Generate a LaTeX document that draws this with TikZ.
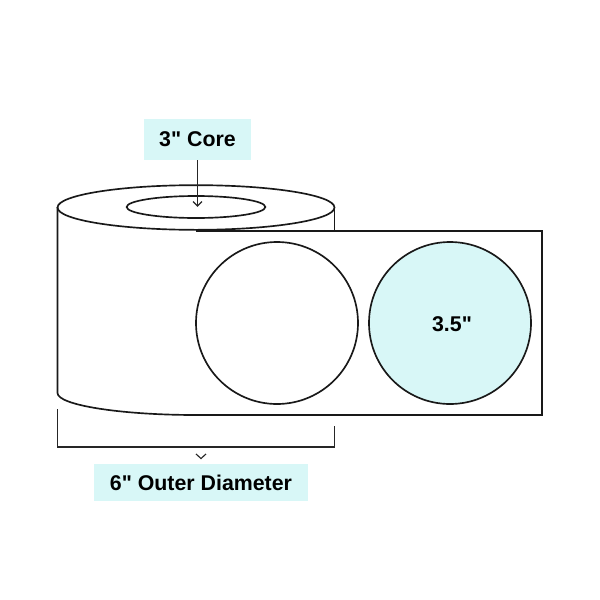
\documentclass[tikz,border=0pt]{standalone}
\usepackage{fontspec}
\newfontfamily\labelfont{Liberation Sans}
\usepackage{xcolor}
\usetikzlibrary{shapes.geometric}
\definecolor{labelfill}{HTML}{D8F7F7}
\tikzset{
    rollline/.style={line width=1.25pt,draw=black!90},
    thinline/.style={line width=0.85pt,draw=black!85},
    labeltext/.style={inner sep=0pt,font=\labelfont\bfseries\fontsize{16}{18}\selectfont,text=black},
    labelbox/.style={labeltext,fill=labelfill},
    labelcircle/.style={circle,rollline,minimum size=121.5pt,inner sep=0pt},
    coreellipse/.style={ellipse,rollline,inner sep=0pt}
}
\begin{document}
\begin{tikzpicture}[x=0.75pt,y=0.75pt,yscale=-1,xscale=1]
        \useasboundingbox (0,0) rectangle (600,600);

        \draw [rollline]  (57.5,207) -- (57.5,393) .. controls (57.5,405) and (120,415) .. (196,415) -- (542,415) -- (542,231) -- (196,231) ;
        \draw [rollline]  (334.5,207) -- (334.5,231) ;

        \node (outerEllipse) [coreellipse,minimum width=207.75pt,minimum height=33.5pt] at (196,207.5) {};
        \node (innerEllipse) [coreellipse,minimum width=104pt,minimum height=16.5pt] at (196,207) {};

        \node (labelLeft) [labelcircle] at (277,323) {};
        \node (labelRight) [labelcircle,fill=labelfill] at (450,323) {};
        \node (sizeText) [labeltext] at (452,324) {3.5"};

        \node (coreBox) [labelbox,minimum width=80.25pt,minimum height=30.75pt] at (197.5,139.5) {3" Core};
        \node (outerBox) [labelbox,minimum width=160.5pt,minimum height=27.75pt] at (201,482.5) {6" Outer Diameter};

        \coordinate (coreTip) at (197.5,206);
        \draw [thinline] (coreBox.south -| coreTip) -- (coreTip) ;
        \draw [thinline] (193,201.5) -- (197.5,206) -- (202,201.5) ;

        \coordinate (bracketLeft) at (57.5,409);
        \coordinate (bracketRight) at (334.5,426);
        \draw [thinline] (bracketLeft) -- (57.5,447) -- (334.5,447) -- (bracketRight) ;
        \draw [thinline] (196,454) -- (201,458.5) -- (206,454) ;
\end{tikzpicture}
\end{document}
